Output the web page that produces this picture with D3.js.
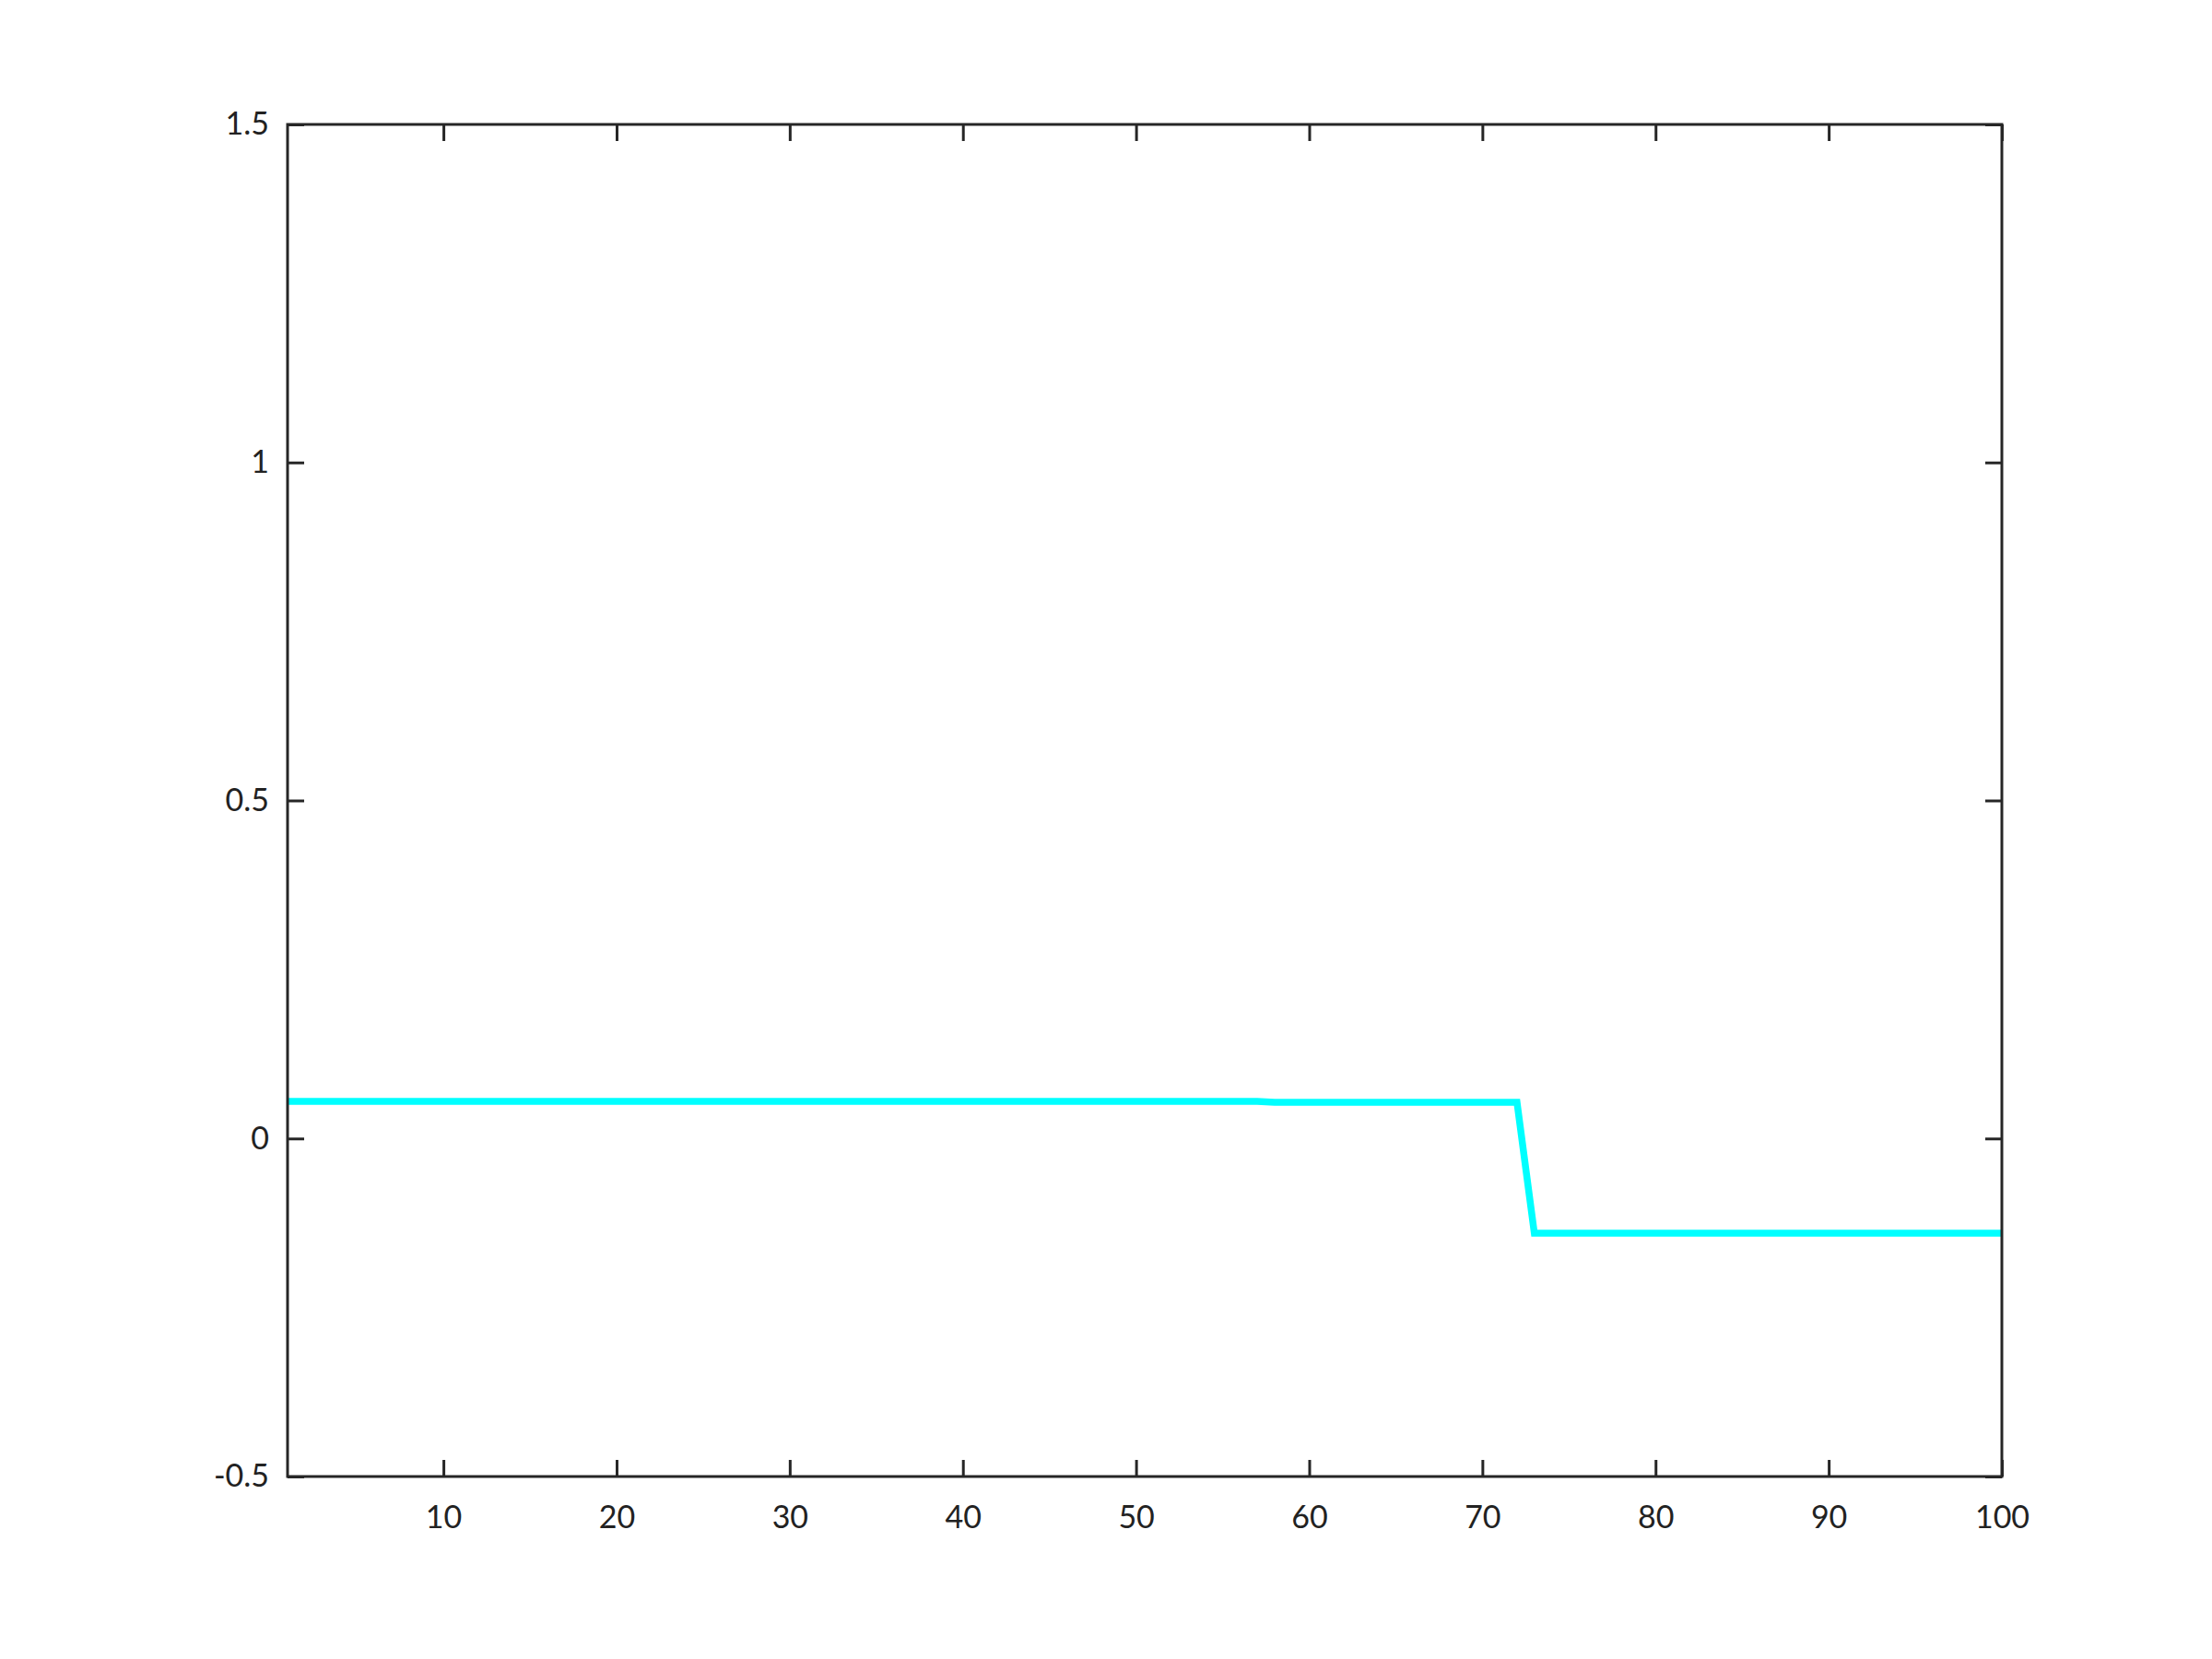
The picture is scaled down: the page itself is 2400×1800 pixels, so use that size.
<!DOCTYPE html>
<html>
<head>
<meta charset="utf-8">
<script src="https://cdn.jsdelivr.net/npm/d3@7"></script>
<style>
  body { margin: 0; background: #fff; }
  text { font-family: Lato, "DejaVu Sans", sans-serif; }
</style>
</head>
<body>
<div id="chart"></div>
<script>
// Data
const yValues = [
    0.0548, 0.0548, 0.0548, 0.0548, 0.0548, 0.0548, 0.0548, 0.0548, 0.0548, 0.0548,
    0.0548, 0.0548, 0.0548, 0.0548, 0.0548, 0.0548, 0.0548, 0.0548, 0.0548, 0.0548,
    0.0548, 0.0548, 0.0548, 0.0548, 0.0548, 0.0548, 0.0548, 0.0548, 0.0548, 0.0548,
    0.0548, 0.0548, 0.0548, 0.0548, 0.0548, 0.0548, 0.0548, 0.0548, 0.0548, 0.0548,
    0.0548, 0.0548, 0.0548, 0.0548, 0.0548, 0.0548, 0.0548, 0.0548, 0.0548, 0.0548,
    0.0548, 0.0548, 0.0548, 0.0548, 0.0548, 0.0548, 0.0548, 0.0535, 0.0535, 0.0535,
    0.0535, 0.0535, 0.0535, 0.0535, 0.0535, 0.0535, 0.0535, 0.0535, 0.0535, 0.0535,
    0.0535, 0.0535, -0.140, -0.140, -0.140, -0.140, -0.140, -0.140, -0.140, -0.140,
    -0.140, -0.140, -0.140, -0.140, -0.140, -0.140, -0.140, -0.140, -0.140, -0.140,
    -0.140, -0.140, -0.140, -0.140, -0.140, -0.140, -0.140, -0.140, -0.140, -0.140
]
const xTicks = [10, 20, 30, 40, 50, 60, 70, 80, 90, 100]
const yTicks = [-0.5, 0, 0.5, 1, 1.5]

const WIDTH = 2400
const HEIGHT = 1800
const margin = { left: 312, right: 228, top: 135, bottom: 198 }
const innerW = WIDTH - margin.left - margin.right
const innerH = HEIGHT - margin.top - margin.bottom
const AXIS_COLOR = "#262626"
const TICK = 18

const svg = d3.select("#chart")
    .append("svg")
    .attr("width", WIDTH)
    .attr("height", HEIGHT)

const g = svg.append("g")
    .attr("transform", `translate(${margin.left},${margin.top})`)

const x = d3.scaleLinear().domain([1, 100]).range([0, innerW])
const y = d3.scaleLinear().domain([-0.5, 1.5]).range([innerH, 0])

// the data line
const line = d3.line()
    .x((d, i) => x(i + 1))
    .y(d => y(d))

g.append("path")
    .datum(yValues)
    .attr("d", line)
    .attr("fill", "none")
    .attr("stroke", "#00ffff")
    .attr("stroke-width", 7.5)

// axes: ticks point inward, mirrored on top and right
function styleAxis(sel) {
    sel.select(".domain").remove()
    sel.selectAll("line").attr("stroke", AXIS_COLOR).attr("stroke-width", 3)
    sel.selectAll("text").attr("fill", "#222").style("font-size", "34px")
}

g.append("g")
    .attr("transform", `translate(0,${innerH})`)
    .call(d3.axisBottom(x).tickValues(xTicks).tickSize(-TICK).tickPadding(32).tickFormat(d => String(d)))
    .call(styleAxis)

g.append("g")
    .call(d3.axisTop(x).tickValues(xTicks).tickSize(-TICK).tickFormat(""))
    .call(styleAxis)

// plain hyphen for the minus sign, as in the reference
g.append("g")
    .call(d3.axisLeft(y).tickValues(yTicks).tickSize(-TICK).tickPadding(20).tickFormat(d => String(d)))
    .call(styleAxis)

g.append("g")
    .attr("transform", `translate(${innerW},0)`)
    .call(d3.axisRight(y).tickValues(yTicks).tickSize(-TICK).tickFormat(""))
    .call(styleAxis)

// box
g.append("rect")
    .attr("width", innerW)
    .attr("height", innerH)
    .attr("fill", "none")
    .attr("stroke", AXIS_COLOR)
    .attr("stroke-width", 3)
</script>
</body>
</html>
